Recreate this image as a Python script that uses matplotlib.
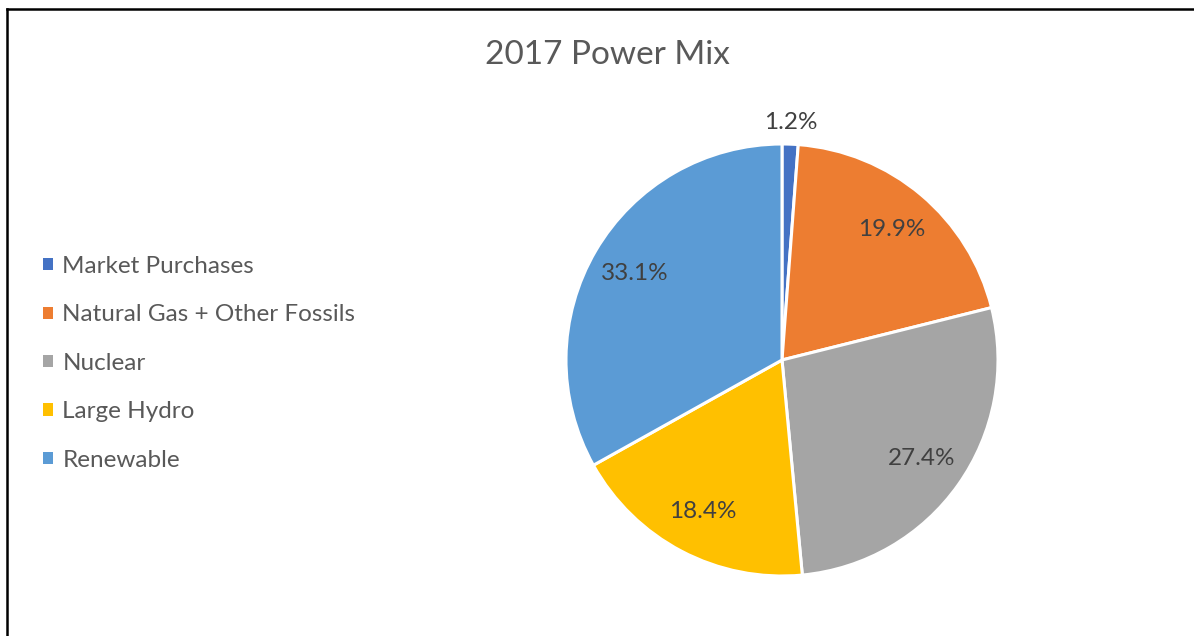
import matplotlib
matplotlib.use("Agg")
import matplotlib.pyplot as plt
from matplotlib.lines import Line2D
from matplotlib.patches import Patch
import numpy as np

plt.rcParams['font.family'] = ['Lato', 'DejaVu Sans']

# DATA
labels = ['Market Purchases', 'Natural Gas + Other Fossils', 'Nuclear', 'Large Hydro', 'Renewable']
shares = [1.2, 19.9, 27.4, 18.4, 33.1]
colors = ['#4472C4', '#ED7D31', '#A5A5A5', '#FFC000', '#5B9BD5']
title = '2017 Power Mix'

W, H = 1194, 636
fig = plt.figure(figsize=(W / 100, H / 100), dpi=100)

# pie axes, square in pixels
cx, cy, r = 782, 360, 216
ax = fig.add_axes([(cx - r) / W, (H - cy - r) / H, 2 * r / W, 2 * r / H])
wedges, _ = ax.pie(shares, colors=colors, startangle=90, counterclock=False,
                   radius=1, wedgeprops=dict(edgecolor='white', linewidth=2.2))
ax.set_xlim(-1, 1)
ax.set_ylim(-1, 1)
ax.set_aspect('auto')
ax.axis('off')

# data labels
for w, v in zip(wedges, shares):
    ang = np.deg2rad((w.theta1 + w.theta2) / 2)
    d = 1.1 if v < 5 else 0.79
    ax.text(d * np.cos(ang), d * np.sin(ang), f'{v:.1f}%', ha='center', va='center',
            fontsize=17.5, color='#404040', clip_on=False)

fig.text(607 / W, 1 - 55 / H, title, ha='center', va='center', fontsize=24, color='#595959')

handles = [Patch(facecolor=c, edgecolor='none') for c in colors]
fig.legend(handles, labels, loc='upper left', bbox_to_anchor=(21 / W, 1 - 234 / H),
           frameon=False, fontsize=17.5, labelcolor='#595959', handlelength=0.4,
           handleheight=0.4, handletextpad=0.4, labelspacing=1.13)

# border of the chart box (cut off at right and bottom)
fig.add_artist(Line2D([7 / W, 1], [1 - 9 / H, 1 - 9 / H], color='black', lw=1.8,
                      transform=fig.transFigure))
fig.add_artist(Line2D([7 / W, 7 / W], [0, 1 - 9 / H], color='black', lw=1.8,
                      transform=fig.transFigure))

fig.savefig('out.png', dpi=100)
